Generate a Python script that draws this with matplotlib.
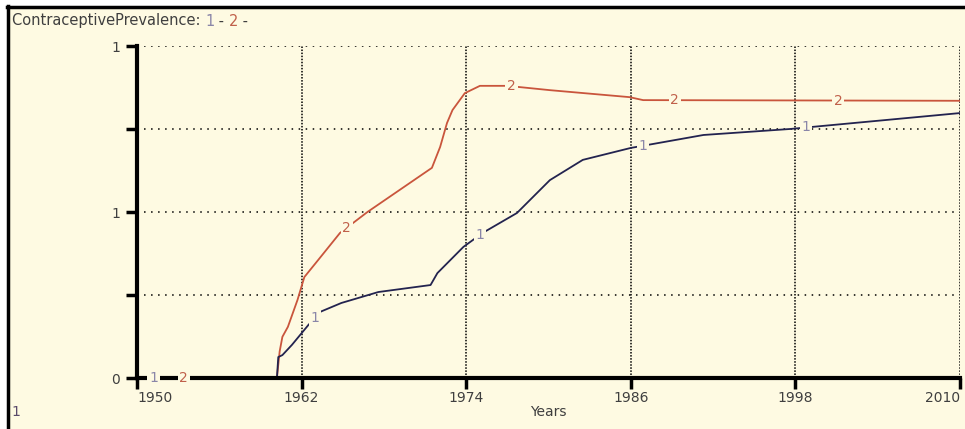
import numpy as np
import matplotlib
matplotlib.use("Agg")
import matplotlib.pyplot as plt
from matplotlib.lines import Line2D
from matplotlib.patches import Rectangle

# --- data -------------------------------------------------------------
years_1 = [1950, 1960.2, 1960.3, 1960.6, 1961.3, 1961.9, 1962.5, 1963.4, 1964.9,
           1967.6, 1971.4, 1971.9, 1973.8, 1975.2, 1977.7, 1980.1, 1982.5,
           1986.0, 1991.3, 1997.6, 2010]
prev_1 = [0, 0, 0.063, 0.069, 0.10, 0.13, 0.16, 0.20, 0.226,
          0.259, 0.28, 0.316, 0.395, 0.437, 0.497, 0.596, 0.657,
          0.693, 0.732, 0.75, 0.798]

years_2 = [1950, 1960.2, 1960.4, 1960.6, 1961.0, 1961.7, 1962.2, 1963.2, 1964.8,
           1966.8, 1971.5, 1972.1, 1972.6, 1973.0, 1973.9, 1975.0, 1977.0,
           1980.1, 1985.9, 1986.9, 2010]
prev_2 = [0, 0, 0.08, 0.124, 0.154, 0.235, 0.304, 0.355, 0.437,
          0.50, 0.633, 0.696, 0.768, 0.807, 0.858, 0.88, 0.88,
          0.867, 0.846, 0.837, 0.835]

label_years_1 = [1951.2, 1963.0, 1975.0, 1986.9, 1998.8]
label_years_2 = [1953.4, 1965.3, 1977.3, 1989.2, 2001.1]

x_ticks = [1950, 1962, 1974, 1986, 1998, 2010]
y_ticks = [0, 0.25, 0.5, 0.75, 1.0]
y_tick_labels = ["0", "", "1", "", "1"]

title_name = "ContraceptivePrevalence: "
x_label = "Years"

# --- style ------------------------------------------------------------
bg = "#fefae2"
c1 = "#23234f"
c2 = "#c9553c"
c1_lbl = "#8a86a8"
c2_lbl = "#c0604a"
txt = "#3f3f3f"
fs = 10

W, H, DPI = 965, 429, 100
fig = plt.figure(figsize=(W / DPI, H / DPI), dpi=DPI, facecolor="white")

def fx(px):
    return px / W

def fy(py):
    return 1 - py / H

# cream panel with black frame on top and left
fig.patches.append(Rectangle((fx(8), 0), 1 - fx(8), fy(7), transform=fig.transFigure,
                             facecolor=bg, edgecolor="none", zorder=-5))
fig.lines.append(Line2D([fx(7), 1], [fy(7), fy(7)], transform=fig.transFigure,
                        color="black", lw=2.5, zorder=-4))
fig.lines.append(Line2D([fx(8), fx(8)], [0, fy(6)], transform=fig.transFigure,
                        color="black", lw=2.5, zorder=-4))

ax = fig.add_axes([fx(137), fy(378), fx(960) - fx(137), fy(46) - fy(378)])
ax.set_facecolor("none")
ax.set_xlim(1950, 2010)
ax.set_ylim(0, 1)

# dotted grid
for yv in y_ticks[1:]:
    ax.axhline(yv, color="black", lw=1.1, ls=(0, (1, 3.6)), zorder=1, xmax=0.995)
for xv in x_ticks[1:]:
    ax.axvline(xv, color="black", lw=1.1, ls=(0, (1, 1)), zorder=1)

ax.plot(years_2, prev_2, color=c2, lw=1.3, zorder=3)
ax.plot(years_1, prev_1, color=c1, lw=1.3, zorder=3)

for yr in label_years_1:
    ax.text(yr, np.interp(yr, years_1, prev_1), "1", color=c1_lbl, fontsize=fs,
            ha="center", va="center", zorder=6,
            bbox=dict(boxstyle="square,pad=0.12", fc=bg, ec="none"))
for yr in label_years_2:
    ax.text(yr, np.interp(yr, years_2, prev_2), "2", color=c2_lbl, fontsize=fs,
            ha="center", va="center", zorder=6,
            bbox=dict(boxstyle="square,pad=0.12", fc=bg, ec="none"))

for s in ["top", "right"]:
    ax.spines[s].set_visible(False)
for s in ["left", "bottom"]:
    ax.spines[s].set_linewidth(3)
    ax.spines[s].set_color("black")
    ax.spines[s].set_zorder(5)

ax.set_xticks(x_ticks)
ax.set_xticklabels([str(v) for v in x_ticks])
ax.set_yticks(y_ticks)
ax.set_yticklabels(y_tick_labels)
ax.tick_params(axis="both", direction="out", length=8, width=2.5, color="black",
               labelsize=fs, labelcolor=txt, pad=1)
ax.tick_params(axis="y", pad=4)
xt = ax.get_xticklabels()
xt[0].set_horizontalalignment("left")
xt[-1].set_horizontalalignment("right")
ax.set_xlabel(x_label, fontsize=fs, color=txt, labelpad=0)

# header with coloured series keys
tfs = 10.5
t = fig.text(fx(12), fy(21), title_name, fontsize=tfs, color=txt, va="center", ha="left")
fig.canvas.draw()
r = fig.canvas.get_renderer()
bb = t.get_window_extent(r)
x0 = bb.x1 / W
parts = [("1", c1_lbl), (" - ", txt), ("2", c2_lbl), (" -", txt)]
for s, c in parts:
    tt = fig.text(x0, fy(21), s, fontsize=tfs, color=c, va="center", ha="left")
    x0 = tt.get_window_extent(r).x1 / W

fig.text(fx(11), fy(412), "1", fontsize=fs, color="#5a4a6a", va="center", ha="left")

fig.savefig("out.png", dpi=DPI, facecolor="white")
